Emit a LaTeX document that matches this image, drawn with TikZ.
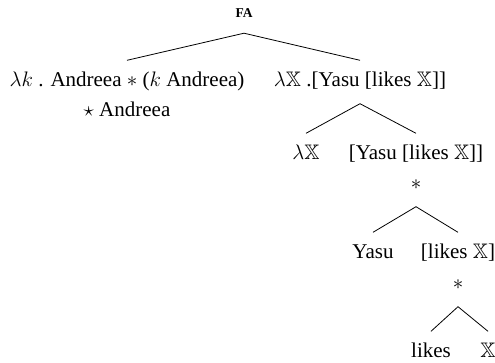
\RequirePackage{fix-cm}
\documentclass[tikz,border=0pt]{standalone}
\usepackage{amsmath}
\usepackage{amssymb}
\usepackage{fontspec}
\setmainfont{Liberation Serif}
\newcommand{\lam}{\lambda}
\begin{document}
\begin{tikzpicture}[x=1pt,y=-1pt,
  every node/.style={font=\fontsize{21}{25}\selectfont},
  tn/.style={text height=13pt, text depth=4pt, inner xsep=0pt, inner ysep=13pt},
  br/.style={line width=0.8pt}]
\useasboundingbox (0,0) rectangle (495,362);
\node[tn, font=\fontsize{13.5}{16}\selectfont\bfseries, text height=9pt, text depth=0pt, inner ysep=15.5pt] (fa) at (244,13) {FA};
\node[tn] (a) at (127,82) {$\lam k$ . Andreea $*$ ($k$ Andreea)};
\node[tn] (astar) at (127,112) {$\star$ Andreea};
\node[tn] (b) at (360,82) {$\lam\mathbb{X}$ .[Yasu [likes $\mathbb{X}$]]};
\node[tn] (c) at (306,155) {$\lam\mathbb{X}$};
\node[tn] (d) at (416,155) {[Yasu [likes $\mathbb{X}$]]};
\node[tn] (s1) at (416,185) {$*$};
\node[tn] (e) at (373,254) {Yasu};
\node[tn] (f) at (458,254) {[likes $\mathbb{X}$]};
\node[tn] (s2) at (458,285) {$*$};
\node[tn] (g) at (431,353) {likes};
\node[tn] (h) at (488,353) {$\mathbb{X}$};
\draw[br] (a.north) -- (fa.south) -- (b.north);
\draw[br] (c.north) -- (b.south) -- (d.north);
\draw[br] (e.north) -- (s1.south) -- (f.north);
\draw[br] (g.north) -- (s2.south) -- (h.north);
\end{tikzpicture}
\end{document}
